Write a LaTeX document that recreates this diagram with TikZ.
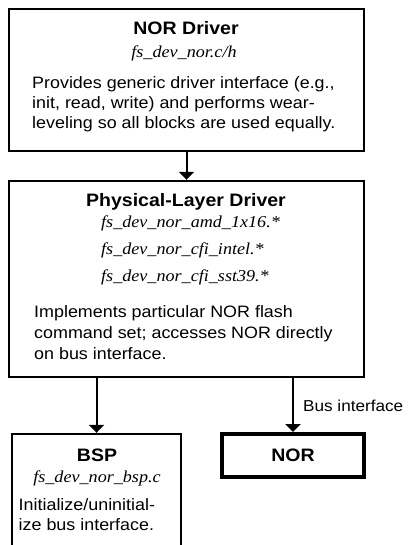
\documentclass[tikz,border=0pt]{standalone}
\usepackage{fontspec}
\setmainfont{Liberation Sans}[FakeStretch=1.085]
\newfontfamily\serifit{Liberation Serif}[FakeStretch=1.085]
\usetikzlibrary{arrows.meta}
\tikzset{
  box/.style={draw=black, line width=2.4pt, rectangle, inner sep=0pt, fill=none},
  norbox/.style={draw=black, line width=4pt, rectangle, inner sep=0pt},
  ttl/.style={inner sep=0pt, anchor=base, font=\fontsize{18}{21}\selectfont\bfseries},
  fname/.style={inner sep=0pt, font=\fontsize{16.7}{20}\selectfont\serifit\itshape},
  body/.style={inner sep=0pt, anchor=base west, font=\fontsize{16.5}{20}\selectfont},
  lbl/.style={inner sep=0pt, anchor=base west, font=\fontsize{15.8}{19}\selectfont},
  arr/.style={line width=2pt, -{Triangle[width=15pt,length=8pt]}}
}
\begin{document}
\begin{tikzpicture}[x=1pt,y=-1pt]
\useasboundingbox (0,0) rectangle (408,545);
\fill[white] (0,0) rectangle (408,545);
\clip (0,0) rectangle (408,545);
% boxes
\node[box, minimum width=355pt, minimum height=142pt] (top) at (186.5,80) {};
\node[box, minimum width=355pt, minimum height=196pt] (phys) at (186.5,279) {};
\node[box, minimum width=169pt, minimum height=130pt] (bsp) at (96.5,499) {};
\node[norbox, minimum width=142pt, minimum height=43pt] (nor) at (293,455.5) {};
% top box text
\node[ttl] (t1) at (186,35) {NOR Driver};
\node[fname, anchor=base] (t2) at (184,58) {fs\_dev\_nor.c/h};
\node[body] (t3) at (32,89) {Provides generic driver interface (e.g.,};
\node[body] (t4) at (32,109) {init, read, write) and performs wear-};
\node[body] (t5) at (32,129) {leveling so all blocks are used equally.};
% physical-layer box text
\node[ttl] (p1) at (186,206) {Physical-Layer Driver};
\node[fname, anchor=base west] (p2) at (101,227) {fs\_dev\_nor\_amd\_1x16.*};
\node[fname, anchor=base west] (p3) at (101,254) {fs\_dev\_nor\_cfi\_intel.*};
\node[fname, anchor=base west] (p4) at (101,281) {fs\_dev\_nor\_cfi\_sst39.*};
\node[body] (p5) at (34,317) {Implements particular NOR flash};
\node[body] (p6) at (34,338) {command set; accesses NOR directly};
\node[body] (p7) at (34,359) {on bus interface.};
% BSP box text
\node[ttl] (b1) at (97,461) {BSP};
\node[fname, anchor=base] (b2) at (97,482) {fs\_dev\_nor\_bsp.c};
\node[body] (b3) at (18.5,510) {Initialize/uninitial-};
\node[body] (b4) at (18.5,530) {ize bus interface.};
% NOR box text
\node[ttl, anchor=center] (n1) at (nor.center) {NOR};
% connectors
\draw[arr] (top.south) -- (phys.north);
\draw[arr] (phys.south -| bsp.north) -- (bsp.north);
\draw[arr] (phys.south -| nor.north) -- (nor.north);
\node[lbl] (bus) at (303,411) {Bus interface};
\end{tikzpicture}
\end{document}
